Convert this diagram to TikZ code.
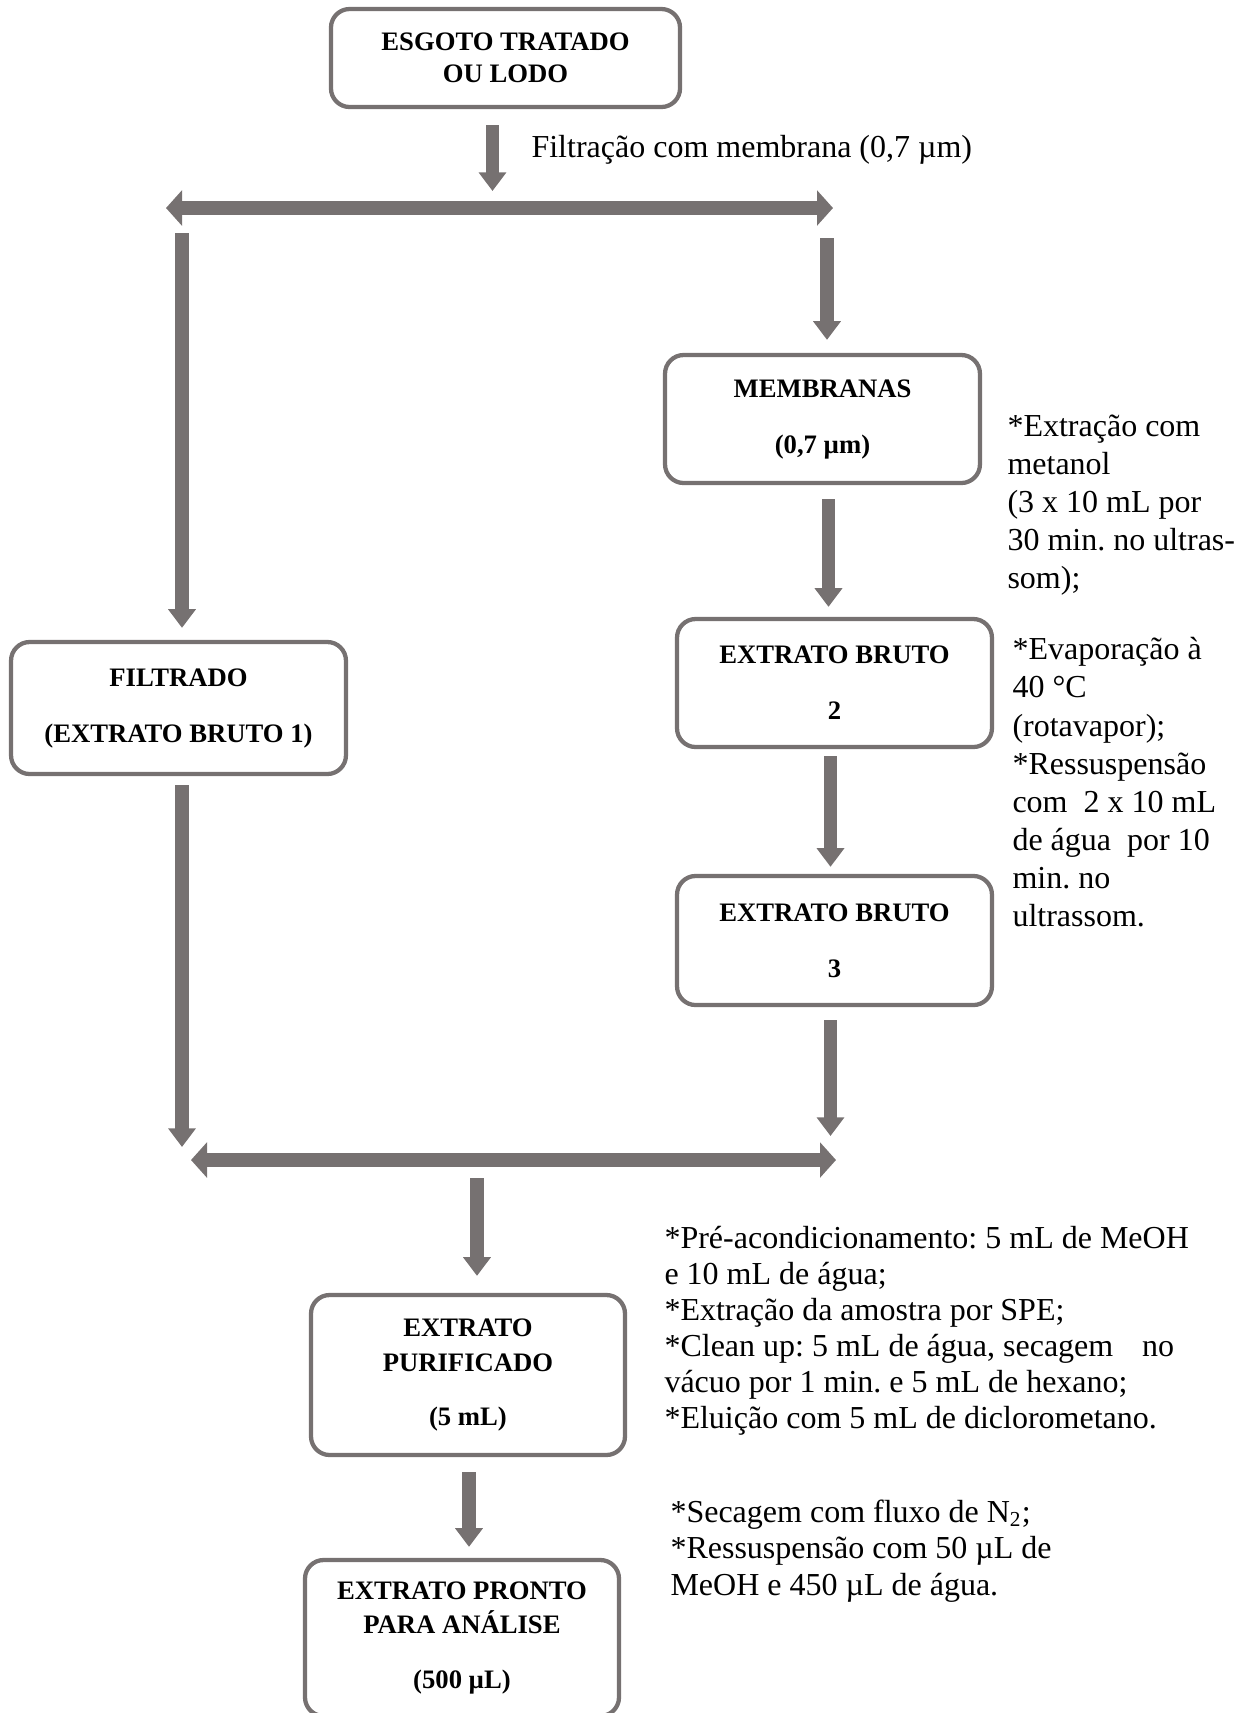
\documentclass[tikz,border=0pt]{standalone}
\usepackage{fontspec}
\setmainfont{Liberation Serif}
\usepackage{tikz}
\usetikzlibrary{arrows.meta}
\definecolor{flowgray}{RGB}{118, 113, 113}
\frenchspacing

\tikzset{
    box/.style={draw=flowgray, line width=1.6pt, rounded corners=7pt, align=center, inner sep=0pt,
        font=\fontsize{10}{12}\selectfont\bfseries},
    varrow/.style={flowgray, line width=4.9pt, -{Triangle[width=10pt, length=7pt]}},
    hbar/.style={flowgray, line width=5.4pt, {Triangle[width=13pt, length=6pt]}-{Triangle[width=13pt, length=6pt]}},
    note/.style={inner sep=0pt, align=left, font=\fontsize{12}{14.3}\selectfont},
}

\begin{document}
\begin{tikzpicture}[x=0.375pt, y=-0.375pt]
        \useasboundingbox (0,0) rectangle (1239,1713);

        % 框
        \node[box, minimum width=130.9pt, minimum height=36.75pt] (esgoto) at (505.5,58) {ESGOTO TRATADO\\OU LODO};
        \node[box, minimum width=118.1pt, minimum height=48pt] (membranas) at (822.5,419) {MEMBRANAS\\[9pt](0,7 µm)};
        \node[box, minimum width=118.1pt, minimum height=48pt] (bruto2) at (834.5,683) {EXTRATO BRUTO\\[9pt]2};
        \node[box, minimum width=118.1pt, minimum height=48.4pt] (bruto3) at (834.5,940.5) {EXTRATO BRUTO\\[9pt]3};
        \node[box, minimum width=125.6pt, minimum height=49.5pt] (filtrado) at (178.5,708) {FILTRADO\\[9pt](EXTRATO BRUTO 1)};
        \node[box, minimum width=117.75pt, minimum height=60pt] (purificado) at (468,1375) {EXTRATO\\[1pt]PURIFICADO\\[8.25pt](5 mL)};
        \node[box, minimum width=117.75pt, minimum height=58.5pt] (pronto) at (462,1638) {EXTRATO PRONTO\\[0.75pt]PARA ANÁLISE\\[8.6pt](500 µL)};

        % 分流与汇合
        \coordinate (split1l) at (166,208);
        \coordinate (split1r) at (833,208);
        \coordinate (join2l) at (191,1160);
        \coordinate (join2r) at (836,1160);
        \draw[hbar] (split1l) -- (split1r);
        \draw[hbar] (join2l) -- (join2r);

        % 箭头
        \draw[varrow] ([shift={(-13,16)}]esgoto.south) -- ([shift={(-13,-17)}]esgoto.south |- split1l);
        \draw[varrow] ([shift={(3.5,25)}]filtrado.north |- split1l) -- ([shift={(3.5,-12)}]filtrado.north);
        \draw[varrow] ([shift={(4.5,30)}]membranas.north |- split1r) -- ([shift={(4.5,-13)}]membranas.north);
        \draw[varrow] ([shift={(6,14)}]membranas.south) -- ([shift={(6,-10)}]bruto2.north -| membranas.south);
        \draw[varrow] ([shift={(-4,7)}]bruto2.south) -- ([shift={(-4,-7)}]bruto3.north);
        \draw[varrow] ([shift={(-4,13)}]bruto3.south) -- ([shift={(-4,-24)}]bruto3.south |- join2r);
        \draw[varrow] ([shift={(3.5,9)}]filtrado.south) -- ([shift={(3.5,-13)}]filtrado.south |- join2l);
        \draw[varrow] ([shift={(9,18)}]purificado.north |- join2l) -- ([shift={(9,-17)}]purificado.north);
        \draw[varrow] ([shift={(1,15)}]purificado.south) -- ([shift={(1,-11)}]pronto.north -| purificado.south);

        % 注解
        \node[note, anchor=base west] (filtracao) at (531,157) {Filtração com membrana (0,7 µm)};
        \node[note, anchor=north west] (extracao) at (1007,414) {*Extração com\\metanol\\(3 x 10 mL por\\30 min. no ultras-\\som);};
        \node[note, anchor=north west] (evaporacao) at (1012,637) {*Evaporação à\\40 °C\\(rotavapor);\\*Ressuspensão\\com\ \ 2 x 10 mL\\de água\ \ por 10\\min. no\\ultrassom.};
        \node[note, anchor=north west, font=\fontsize{12}{13.5}\selectfont] (spe) at (664,1226) {*Pré-acondicionamento: 5 mL de MeOH\\e 10 mL de água;\\*Extração da amostra por SPE;\\*Clean up: 5 mL de água, secagem\hspace{0.9em}no\\vácuo por 1 min. e 5 mL de hexano;\\*Eluição com 5 mL de diclorometano.};
        \node[note, anchor=north west, font=\fontsize{12}{13.7}\selectfont] (secagem) at (670,1499) {*Secagem com fluxo de N\textsubscript{2};\\*Ressuspensão com 50 µL de\\MeOH e 450 µL de água.};
    \end{tikzpicture}
\end{document}
